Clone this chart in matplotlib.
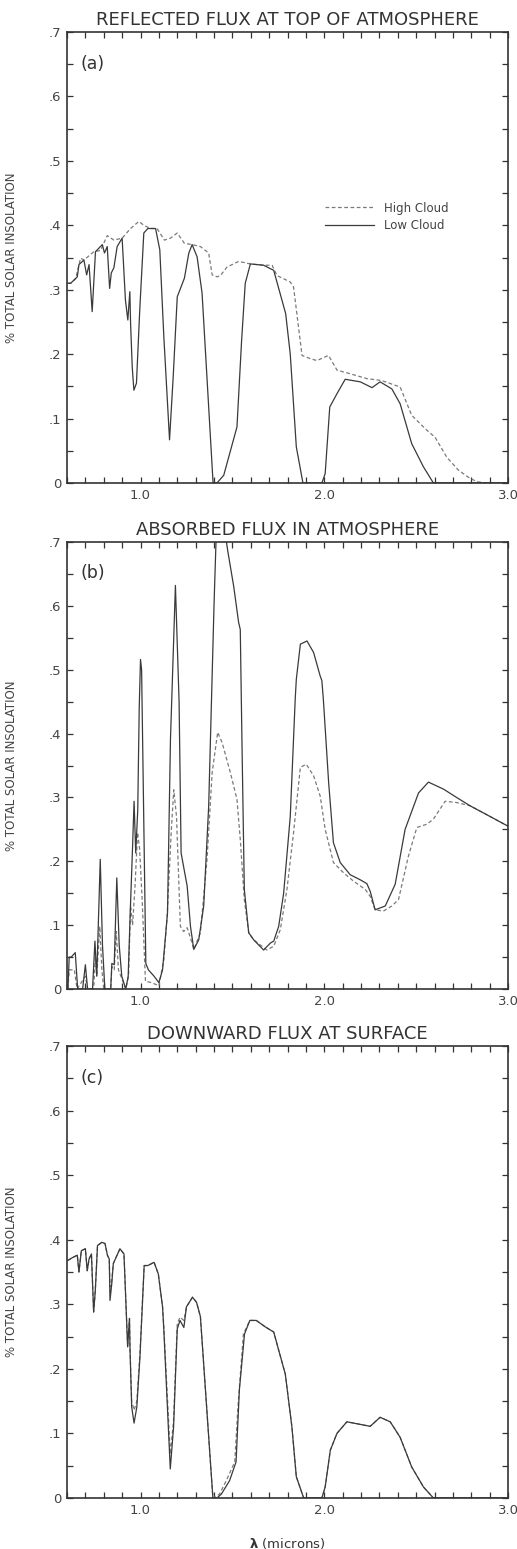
import matplotlib
matplotlib.use("Agg")
import matplotlib.pyplot as plt
from matplotlib.ticker import MultipleLocator, FixedLocator

# ---- (a) reflected flux at top of atmosphere ----
wl_a_high = [0.605, 0.62, 0.647, 0.674, 0.692, 0.746, 0.783, 0.80, 0.819, 0.855,
             0.90, 0.946, 0.991, 1.018, 1.054, 1.09, 1.13, 1.163, 1.20, 1.239,
             1.281, 1.326, 1.371, 1.39, 1.417, 1.435, 1.47, 1.534, 1.598, 1.67,
             1.716, 1.743, 1.815, 1.833, 1.879, 1.924, 1.96, 2.023, 2.07, 2.123,
             2.232, 2.313, 2.413, 2.476, 2.558, 2.603, 2.667, 2.73, 2.784, 2.83,
             2.884, 3.0]
flux_a_high = [0.31, 0.31, 0.317, 0.349, 0.346, 0.359, 0.361, 0.372, 0.384, 0.377,
               0.38, 0.395, 0.406, 0.40, 0.395, 0.395, 0.377, 0.38, 0.388, 0.372,
               0.37, 0.367, 0.357, 0.323, 0.32, 0.322, 0.335, 0.344, 0.34, 0.338,
               0.338, 0.322, 0.312, 0.304, 0.198, 0.193, 0.19, 0.198, 0.175, 0.171,
               0.162, 0.159, 0.149, 0.105, 0.082, 0.071, 0.04, 0.02, 0.009, 0.002,
               0.0, 0.0]

wl_a_low = [0.605, 0.62, 0.656, 0.665, 0.692, 0.707, 0.72, 0.737, 0.755, 0.792,
            0.804, 0.819, 0.832, 0.841, 0.855, 0.873, 0.90, 0.918, 0.931, 0.942,
            0.946, 0.955, 0.964, 0.978, 0.996, 1.018, 1.04, 1.082, 1.105, 1.127,
            1.158, 1.178, 1.20, 1.239, 1.263, 1.281, 1.308, 1.335, 1.395, 1.416,
            1.453, 1.525, 1.55, 1.57, 1.598, 1.67, 1.725, 1.79, 1.815, 1.848, 1.884,
            1.987, 2.005, 2.03, 2.07, 2.114, 2.196, 2.26, 2.304, 2.368, 2.413,
            2.476, 2.54, 2.594, 3.0]
flux_a_low = [0.31, 0.31, 0.32, 0.339, 0.346, 0.323, 0.339, 0.266, 0.359, 0.37,
              0.357, 0.367, 0.302, 0.326, 0.334, 0.367, 0.38, 0.284, 0.253, 0.297,
              0.248, 0.18, 0.144, 0.155, 0.269, 0.388, 0.395, 0.395, 0.362, 0.227,
              0.067, 0.165, 0.289, 0.318, 0.357, 0.37, 0.351, 0.295, 0.0, 0.0,
              0.012, 0.087, 0.22, 0.31, 0.34, 0.338, 0.33, 0.263, 0.20, 0.056, 0.0,
              0.0, 0.0145, 0.118, 0.139, 0.161, 0.157, 0.148, 0.157, 0.146, 0.123,
              0.061, 0.025, 0.0, 0.0]

# ---- (b) absorbed flux in atmosphere ----
wl_b_high = [0.605, 0.612, 0.64, 0.655, 0.70, 0.712, 0.745, 0.755, 0.762, 0.778,
             0.79, 0.80, 0.838, 0.844, 0.857, 0.868, 0.88, 0.92, 0.935, 0.946,
             0.957, 0.97, 0.984, 0.995, 1.009, 1.027, 1.06, 1.10, 1.127, 1.145,
             1.167, 1.181, 1.196, 1.217, 1.235, 1.254, 1.272, 1.29, 1.326, 1.362,
             1.39, 1.42, 1.444, 1.489, 1.525, 1.543, 1.565, 1.589, 1.616, 1.688,
             1.725, 1.761, 1.797, 1.833, 1.87, 1.902, 1.942, 1.978, 2.005, 2.05,
             2.105, 2.159, 2.223, 2.25, 2.277, 2.322, 2.368, 2.404, 2.458, 2.504,
             2.558, 2.594, 2.658, 2.72, 2.793, 2.884, 3.0]
flux_b_high = [0.0, 0.03, 0.03, 0.0, 0.02, 0.0, 0.0, 0.05, 0.02, 0.098,
               0.03, 0.0, 0.0, 0.035, 0.03, 0.09, 0.03, 0.0, 0.02, 0.13,
               0.10, 0.16, 0.245, 0.22, 0.14, 0.012, 0.01, 0.005, 0.046, 0.114,
               0.245, 0.312, 0.27, 0.098, 0.09, 0.096, 0.08, 0.062, 0.088, 0.203,
               0.339, 0.402, 0.386, 0.339, 0.297, 0.234, 0.14, 0.088, 0.077, 0.061,
               0.067, 0.093, 0.156, 0.245, 0.347, 0.352, 0.334, 0.302, 0.25, 0.198,
               0.182, 0.169, 0.156, 0.145, 0.124, 0.122, 0.13, 0.14, 0.208, 0.253,
               0.258, 0.266, 0.294, 0.292, 0.287, 0.273, 0.255]

wl_b_low = [0.605, 0.612, 0.623, 0.645, 0.658, 0.685, 0.70, 0.712, 0.739, 0.752,
            0.762, 0.781, 0.793, 0.806, 0.838, 0.844, 0.857, 0.871, 0.884, 0.898,
            0.92, 0.933, 0.944, 0.957, 0.965, 0.974, 0.985, 0.993, 1.0, 1.006,
            1.029, 1.043, 1.074, 1.10, 1.12, 1.147, 1.163, 1.19, 1.21, 1.221,
            1.254, 1.272, 1.29, 1.317, 1.344, 1.371, 1.40, 1.413, 1.457, 1.476,
            1.507, 1.534, 1.543, 1.552, 1.565, 1.589, 1.616, 1.67, 1.707, 1.725,
            1.752, 1.779, 1.815, 1.842, 1.848, 1.87, 1.906, 1.942, 1.978, 1.987,
            1.995, 2.024, 2.05, 2.087, 2.141, 2.196, 2.232, 2.25, 2.277, 2.332,
            2.386, 2.44, 2.513, 2.567, 2.649, 2.72, 2.793, 2.884, 3.0]
flux_b_low = [0.0, 0.05, 0.05, 0.057, 0.0, 0.0, 0.038, 0.0, 0.0, 0.075,
              0.02, 0.203, 0.069, 0.0, 0.0, 0.04, 0.038, 0.174, 0.069, 0.02,
              0.0, 0.02, 0.119, 0.224, 0.294, 0.213, 0.28, 0.44, 0.516, 0.50,
              0.04, 0.03, 0.02, 0.01, 0.03, 0.119, 0.39, 0.632, 0.45, 0.213,
              0.161, 0.098, 0.062, 0.077, 0.13, 0.286, 0.60, 0.72, 0.72, 0.684,
              0.631, 0.574, 0.563, 0.39, 0.156, 0.088, 0.077, 0.061, 0.072, 0.075,
              0.098, 0.15, 0.27, 0.454, 0.485, 0.54, 0.545, 0.527, 0.49, 0.483,
              0.454, 0.323, 0.229, 0.198, 0.179, 0.171, 0.165, 0.153, 0.124, 0.13,
              0.164, 0.25, 0.307, 0.324, 0.313, 0.30, 0.287, 0.273, 0.255]

# ---- (c) downward flux at surface ----
wl_c_low = [0.605, 0.628, 0.656, 0.665, 0.678, 0.70, 0.71, 0.72, 0.733, 0.745,
            0.754, 0.766, 0.79, 0.807, 0.82, 0.83, 0.834, 0.843, 0.852, 0.888,
            0.91, 0.918, 0.93, 0.94, 0.943, 0.952, 0.965, 0.98, 0.997, 1.02,
            1.04, 1.074, 1.097, 1.12, 1.127, 1.162, 1.18, 1.2, 1.215, 1.236,
            1.25, 1.283, 1.305, 1.326, 1.394, 1.416, 1.44, 1.485, 1.52, 1.538,
            1.566, 1.595, 1.63, 1.679, 1.725, 1.752, 1.788, 1.824, 1.848, 1.888,
            1.987, 2.005, 2.033, 2.069, 2.123, 2.178, 2.25, 2.304, 2.359, 2.413,
            2.476, 2.54, 2.594, 3.0]
flux_c_low = [0.368, 0.372, 0.376, 0.35, 0.383, 0.386, 0.352, 0.37, 0.378, 0.288,
              0.321, 0.391, 0.396, 0.394, 0.376, 0.37, 0.306, 0.33, 0.363, 0.386,
              0.378, 0.321, 0.234, 0.278, 0.23, 0.141, 0.116, 0.141, 0.218, 0.36,
              0.36, 0.365, 0.347, 0.296, 0.26, 0.045, 0.11, 0.262, 0.275, 0.264,
              0.296, 0.311, 0.303, 0.281, 0.0, 0.0, 0.006, 0.027, 0.056, 0.167,
              0.254, 0.275, 0.275, 0.265, 0.257, 0.229, 0.192, 0.11, 0.033, 0.0,
              0.0, 0.017, 0.074, 0.10, 0.118, 0.115, 0.111, 0.125, 0.118, 0.094,
              0.048, 0.017, 0.0, 0.0]

wl_c_high = [0.605, 0.628, 0.656, 0.665, 0.678, 0.70, 0.71, 0.72, 0.733, 0.745,
             0.754, 0.766, 0.79, 0.807, 0.82, 0.83, 0.834, 0.843, 0.852, 0.888,
             0.91, 0.918, 0.93, 0.94, 0.943, 0.952, 0.965, 0.98, 0.997, 1.02,
             1.04, 1.074, 1.097, 1.12, 1.127, 1.162, 1.18, 1.2, 1.215, 1.236,
             1.25, 1.283, 1.305, 1.326, 1.394, 1.43, 1.467, 1.513, 1.53, 1.56,
             1.595, 1.63, 1.679, 1.725, 1.752, 1.788, 1.824, 1.848, 1.888,
             1.987, 2.005, 2.033, 2.069, 2.123, 2.178, 2.25, 2.304, 2.359, 2.413,
             2.476, 2.54, 2.594, 3.0]
flux_c_high = [0.368, 0.372, 0.376, 0.35, 0.383, 0.386, 0.352, 0.37, 0.378, 0.288,
               0.321, 0.391, 0.396, 0.394, 0.376, 0.37, 0.327, 0.335, 0.363, 0.386,
               0.378, 0.321, 0.234, 0.278, 0.23, 0.15, 0.136, 0.15, 0.225, 0.36,
               0.36, 0.365, 0.347, 0.296, 0.265, 0.068, 0.12, 0.27, 0.28, 0.275,
               0.296, 0.311, 0.303, 0.281, 0.0, 0.006, 0.027, 0.056, 0.14, 0.254,
               0.275, 0.275, 0.265, 0.257, 0.229, 0.192, 0.11, 0.033, 0.0,
               0.0, 0.017, 0.074, 0.10, 0.118, 0.115, 0.111, 0.125, 0.118, 0.094,
               0.048, 0.017, 0.0, 0.0]

y_ticks = [0.0, 0.1, 0.2, 0.3, 0.4, 0.5, 0.6, 0.7]
y_ticklabels = ["0", ".1", ".2", ".3", ".4", ".5", ".6", ".7"]
x_ticks = [1.0, 2.0, 3.0]
x_ticklabels = ["1.0", "2.0", "3.0"]

panels = [
    ("REFLECTED FLUX AT TOP OF ATMOSPHERE", "(a)", wl_a_high, flux_a_high, wl_a_low, flux_a_low),
    ("ABSORBED FLUX IN ATMOSPHERE", "(b)", wl_b_high, flux_b_high, wl_b_low, flux_b_low),
    ("DOWNWARD FLUX AT SURFACE", "(c)", wl_c_high, flux_c_high, wl_c_low, flux_c_low),
]

INK = "#333333"
W, H = 517, 1549
# axes boxes in pixels: (top, bottom)
boxes = [(32, 483), (542, 989), (1046, 1498)]
left_px, right_px = 67, 508

fig = plt.figure(figsize=(W / 100, H / 100), dpi=100)
plt.rcParams["font.family"] = "DejaVu Sans"

for (title, tag, xh, yh, xl, yl), (top, bot) in zip(panels, boxes):
    ax = fig.add_axes([left_px / W, 1 - bot / H, (right_px - left_px) / W, (bot - top) / H])
    ax.plot(xh, yh, color="#7a7a7a", lw=0.9, dashes=(3.0, 2.0), label="High Cloud")
    ax.plot(xl, yl, color="#3a3a3a", lw=0.9, label="Low Cloud")
    ax.set_xlim(0.6, 3.0)
    ax.set_ylim(0, 0.7)

    ax.xaxis.set_major_locator(FixedLocator(x_ticks))
    ax.set_xticklabels(x_ticklabels)
    ax.xaxis.set_minor_locator(MultipleLocator(0.1))
    ax.yaxis.set_major_locator(FixedLocator(y_ticks))
    ax.set_yticklabels(y_ticklabels)
    ax.yaxis.set_minor_locator(MultipleLocator(0.05))
    ax.tick_params(which="both", direction="in", top=True, right=True,
                   color=INK, width=0.9, labelsize=9.5, labelcolor="#444444")
    ax.tick_params(which="major", length=4, pad=4)
    ax.tick_params(which="minor", length=4)
    for s in ax.spines.values():
        s.set_linewidth(1.2)
        s.set_color(INK)

    ax.set_title(title, fontsize=13, color=INK, pad=5)
    ax.text(0.03, 0.95, tag, transform=ax.transAxes, fontsize=12.5,
            color=INK, ha="left", va="top")
    ax.set_ylabel("% TOTAL SOLAR INSOLATION", fontsize=8.5, color="#444444")
    ax.yaxis.set_label_coords(-0.11, 0.5)

    if tag == "(a)":
        ax.legend(loc="center left", bbox_to_anchor=(0.56, 0.59), frameon=False,
                  fontsize=8.5, handlelength=4.2, labelspacing=0.4,
                  labelcolor="#444444")
    if tag == "(c)":
        ax.set_xlabel(r"$\mathbf{\lambda}$ (microns)", fontsize=9.5,
                      color="#333333", labelpad=14)

fig.savefig("out.png", dpi=100, facecolor="white")
